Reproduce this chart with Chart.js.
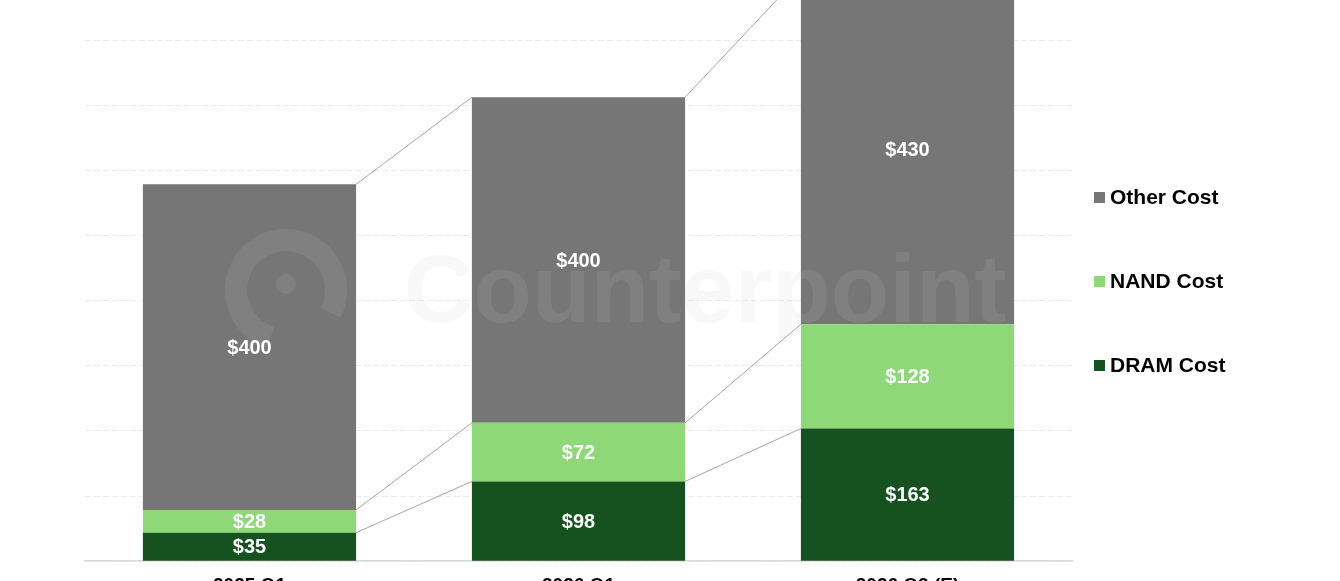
<!DOCTYPE html>
<html>
<head>
<meta charset="utf-8">
<script src="https://cdn.jsdelivr.net/npm/chart.js@4"></script>
<style>
  html, body { margin: 0; padding: 0; background: #fff; }
  #wrap { position: relative; width: 1340px; height: 581px; overflow: hidden; }
  #box { position: absolute; left: 0; top: -100px; width: 1340px; height: 724px; }
  #legend { position: absolute; left: 1094px; top: 0; font-family: "Liberation Sans", Arial, sans-serif; font-weight: bold; font-size: 21px; color: #000; }
  #legend div { position: absolute; white-space: nowrap; }
  #legend span { display: inline-block; width: 11px; height: 11px; margin-right: 5px; vertical-align: 1px; }
</style>
</head>
<body>
<div id="wrap">
  <div id="box"><canvas id="costChart"></canvas></div>
  <div id="legend"></div>
</div>
<script>
const quarters = ['2025 Q1', '2026 Q1', '2026 Q2 (E)'];
const dramCost = [35, 98, 163];
const nandCost = [28, 72, 128];
const otherCost = [400, 400, 430];
const seriesNames = ['DRAM Cost', 'NAND Cost', 'Other Cost'];
const seriesColors = ['#15521f', '#8fd877', '#767676'];

document.addEventListener('DOMContentLoaded', function() {
    const data_cost = {
        labels: quarters,
        datasets: [
            { label: seriesNames[0], data: dramCost, backgroundColor: seriesColors[0] },
            { label: seriesNames[1], data: nandCost, backgroundColor: seriesColors[1] },
            { label: seriesNames[2], data: otherCost, backgroundColor: seriesColors[2] }
        ]
    };

    // watermark + lines joining the bars + value labels
    const extras = {
        id: 'extras',
        beforeDatasetsDraw(chart) {
            const ctx = chart.ctx;
            const y = chart.scales.y;
            ctx.save();
            ctx.strokeStyle = '#a6a6a6';
            ctx.lineWidth = 1;
            for (let i = 0; i < quarters.length - 1; i++) {
                let sumA = 0, sumB = 0;
                chart.data.datasets.forEach((ds, d) => {
                    sumA += ds.data[i];
                    sumB += ds.data[i + 1];
                    const a = chart.getDatasetMeta(d).data[i];
                    const b = chart.getDatasetMeta(d).data[i + 1];
                    ctx.beginPath();
                    ctx.moveTo(a.x + a.width / 2, y.getPixelForValue(sumA));
                    ctx.lineTo(b.x - b.width / 2, y.getPixelForValue(sumB));
                    ctx.stroke();
                });
            }
            ctx.restore();
        },
        afterDatasetsDraw(chart) {
            const ctx = chart.ctx;
            ctx.save();
            // faint watermark
            ctx.fillStyle = 'rgba(200,200,200,0.13)';
            ctx.font = 'bold 96px "Liberation Sans", Arial, sans-serif';
            ctx.textBaseline = 'middle';
            ctx.fillText('Counterpoint', 404, 396);
            ctx.strokeStyle = 'rgba(200,200,200,0.13)';
            ctx.lineWidth = 22;
            ctx.beginPath();
            ctx.arc(286, 390, 50, Math.PI * 0.6, Math.PI * 2.15);
            ctx.stroke();
            ctx.beginPath();
            ctx.arc(286, 384, 10, 0, Math.PI * 2);
            ctx.fill();

            ctx.fillStyle = '#ffffff';
            ctx.font = 'bold 20px "Liberation Sans", Arial, sans-serif';
            ctx.textAlign = 'center';
            ctx.textBaseline = 'middle';
            chart.data.datasets.forEach((ds, d) => {
                chart.getDatasetMeta(d).data.forEach((bar, i) => {
                    ctx.fillText('$' + ds.data[i], bar.x, (bar.y + bar.base) / 2 + 1);
                });
            });
            ctx.restore();
        }
    };

    var costChart = new Chart(document.getElementById('costChart'), {
        type: 'bar',
        data: data_cost,
        plugins: [extras],
        options: {
            responsive: true,
            maintainAspectRatio: false,
            animation: false,
            layout: { padding: { left: 85, right: 268, top: 10, bottom: 22 } },
            plugins: { legend: { display: false }, tooltip: { enabled: false } },
            datasets: { bar: { categoryPercentage: 1, barPercentage: 0.648 } },
            scales: {
                x: {
                    stacked: true,
                    grid: { display: false },
                    border: { color: '#d9d9d9', width: 1.5 },
                    ticks: { color: '#000', padding: 5, font: { family: '"Liberation Sans", Arial, sans-serif', size: 19, weight: 'bold' } }
                },
                y: {
                    stacked: true,
                    min: 0,
                    max: 800,
                    ticks: { display: false, stepSize: 80 },
                    grid: { color: '#ececec', lineWidth: 1, drawTicks: false },
                    border: { display: false, dash: [6, 3] }
                }
            }
        }
    });

    // legend, top item is the top of the stack
    const legend = document.getElementById('legend');
    const tops = [365, 281, 197];
    seriesNames.forEach((name, i) => {
        const item = document.createElement('div');
        item.style.top = (tops[i] - 12) + 'px';
        item.innerHTML = '<span style="background:' + seriesColors[i] + '"></span>' + name;
        legend.appendChild(item);
    });
});
</script>
</body>
</html>
